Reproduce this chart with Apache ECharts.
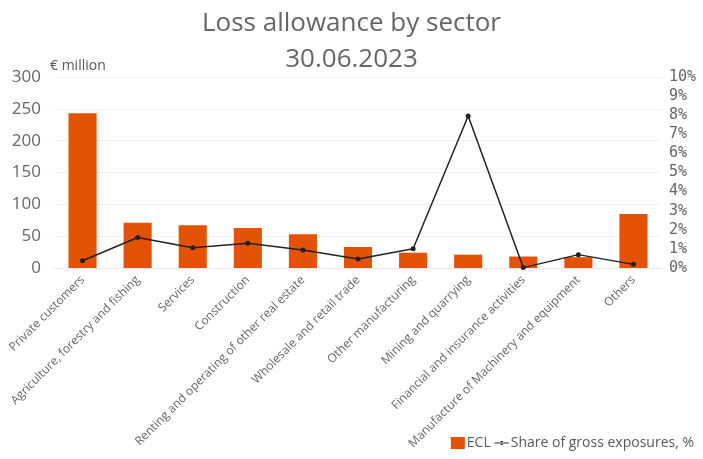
<!DOCTYPE html>
<html>
<head>
<meta charset="utf-8">
<script src="https://cdn.jsdelivr.net/npm/echarts@6/dist/echarts.min.js"></script>
<style>
  html, body { margin: 0; padding: 0; background: #fff; }
  #chart { width: 703px; height: 459px; }
</style>
</head>
<body>
<div id="chart"></div>
<script>
// 数据
const sectors = [
    'Private customers',
    'Agriculture, forestry and fishing',
    'Services',
    'Construction',
    'Renting and operating of other real estate',
    'Wholesale and retail trade',
    'Other manufacturing',
    'Mining and quarrying',
    'Financial and insurance activities',
    'Manufacture of Machinery and equipment',
    'Others'
];
const eclValues = [243, 71, 67, 63, 53, 33, 24, 21, 18, 17, 85];
const shareValues = [0.38, 1.6, 1.06, 1.29, 0.94, 0.47, 1.01, 7.96, 0.02, 0.7, 0.19];
const leftTicks = [0, 50, 100, 150, 200, 250, 300];
const rightTicks = [0, 1, 2, 3, 4, 5, 6, 7, 8, 9, 10];

const chart = echarts.init(document.getElementById('chart'));

const option = {
    backgroundColor: '#fff',
    animation: false,
    title: {
        text: 'Loss allowance by sector\n30.06.2023',
        left: 'center',
        top: 1,
        textStyle: {
            color: '#666',
            fontFamily: 'Open Sans',
            fontWeight: 'normal',
            fontSize: 26,
            lineHeight: 36
        }
    },
    legend: {
        right: 4,
        bottom: 4,
        itemGap: 4,
        itemWidth: 14,
        itemHeight: 12,
        textStyle: {
            color: '#595959',
            fontFamily: 'Open Sans',
            fontSize: 14,
            padding: [0, 0, 0, -3]
        },
        data: [
            { name: 'ECL', icon: 'rect' },
            {
                name: 'Share of gross exposures, %',
                icon: 'path://M0,5.5h16v1h-16z M8,6m-2.2,0a2.2,2.2 0 1,0 4.4,0a2.2,2.2 0 1,0 -4.4,0z',
                itemStyle: { color: '#222' }
            }
        ]
    },
    grid: {
        left: 55,
        right: 42,
        top: 77,
        bottom: 191,
        outerBoundsMode: 'none'
    },
    xAxis: {
        type: 'category',
        data: sectors,
        axisTick: { show: false },
        axisLine: { lineStyle: { color: '#e6e6e6' } },
        axisLabel: {
            rotate: 45,
            interval: 0,
            margin: 10,
            color: '#666',
            fontFamily: 'Open Sans',
            fontSize: 12
        }
    },
    yAxis: [
        {
            type: 'value',
            min: leftTicks[0],
            max: leftTicks[leftTicks.length - 1],
            interval: 50,
            name: '€ million',
            nameLocation: 'end',
            nameGap: 4,
            nameTextStyle: {
                color: '#595959',
                fontFamily: 'Open Sans',
                fontSize: 14,
                align: 'left',
                padding: [0, 0, 0, -5]
            },
            axisLabel: {
                color: '#666',
                fontFamily: 'Open Sans',
                fontSize: 17,
                margin: 14
            },
            splitLine: { lineStyle: { color: '#f0f0f0' } }
        },
        {
            type: 'value',
            min: rightTicks[0],
            max: rightTicks[rightTicks.length - 1],
            interval: 1,
            position: 'right',
            axisLabel: {
                color: '#666',
                fontFamily: 'DejaVu Sans Mono',
                fontSize: 15,
                margin: 8,
                formatter: '{value}%'
            },
            splitLine: { show: false }
        }
    ],
    series: [
        {
            name: 'ECL',
            type: 'bar',
            data: eclValues,
            barWidth: '51%',
            itemStyle: { color: '#e35205' }
        },
        {
            name: 'Share of gross exposures, %',
            type: 'line',
            yAxisIndex: 1,
            data: shareValues,
            symbol: 'circle',
            symbolSize: 5,
            lineStyle: { color: '#222', width: 1.5 },
            itemStyle: { color: '#222' }
        }
    ]
};
chart.setOption(option);
</script>
</body>
</html>
